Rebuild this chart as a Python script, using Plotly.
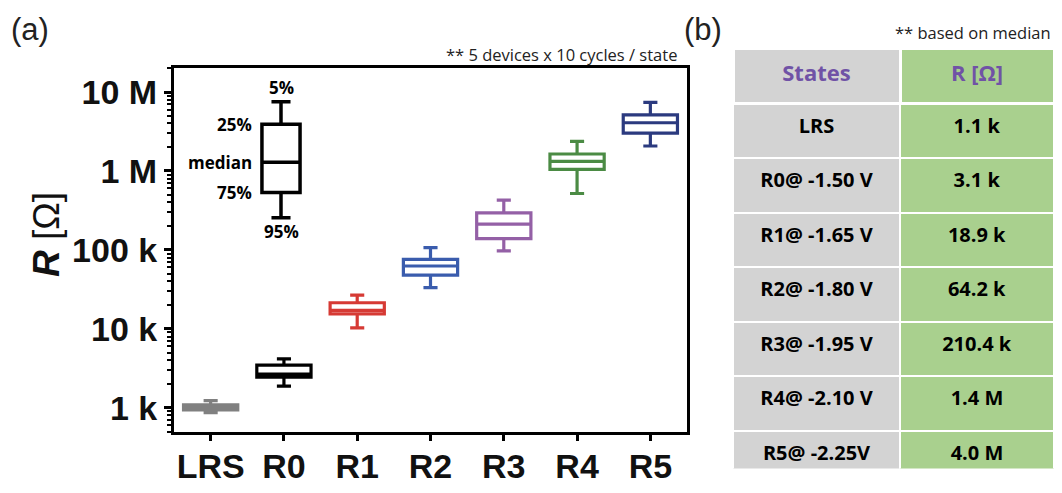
import numpy as np
import plotly.graph_objects as go

# ---------------- data ----------------
categories = ["LRS", "R0", "R1", "R2", "R3", "R4", "R5"]
box_colors = ["#808080", "#000000", "#d63a34", "#3a5cad", "#9460a6", "#4b8b44", "#2b3a7f"]
lower_5 = [870, 1880, 10300, 33300, 97000, 518000, 2070000]
q1_25 = [940, 2440, 15500, 47800, 139000, 1050000, 3010000]
median_50 = [1010, 2680, 17100, 62500, 212000, 1320000, 4080000]
q3_75 = [1090, 3470, 21400, 76000, 294000, 1640000, 5140000]
upper_95 = [1230, 4170, 26800, 106600, 428000, 2370000, 7380000]

# legend key box (illustrative values)
key_pos = 0.96
key_values = dict(lower=256000, q1=532000, median=1290000, q3=3900000, upper=7500000)

ytick_vals = [1e3, 1e4, 1e5, 1e6, 1e7]
ytick_text = ["1 k", "10 k", "100 k", "1 M", "10 M"]

table_states = ["LRS", "R0@ -1.50 V", "R1@ -1.65 V", "R2@ -1.80 V",
                "R3@ -1.95 V", "R4@ -2.10 V", "R5@ -2.25V"]
table_median = ["1.1 k", "3.1 k", "18.9 k", "64.2 k", "210.4 k", "1.4 M", "4.0 M"]

# the page body has an 8px margin: the figure is drawn 8px right/down
OFF = 8
W, H = 1046, 477


def px(x):
    return (x - OFF) / W


def py(y):
    return (H - (y - OFF)) / H


fig = go.Figure()

fig.add_trace(go.Box(
    x=[key_pos], q1=[key_values["q1"]], median=[key_values["median"]],
    q3=[key_values["q3"]], lowerfence=[key_values["lower"]],
    upperfence=[key_values["upper"]], width=0.52, whiskerwidth=0.5,
    line=dict(color="black", width=3.5), fillcolor="white",
    boxpoints=False, showlegend=False, hoverinfo="skip"))

for i, c in enumerate(categories):
    fig.add_trace(go.Box(
        x=[i], q1=[q1_25[i]], median=[median_50[i]], q3=[q3_75[i]],
        lowerfence=[lower_5[i]], upperfence=[upper_95[i]],
        width=0.74, whiskerwidth=0.26, name=c,
        line=dict(color=box_colors[i], width=3.2), fillcolor="white",
        boxpoints=False, showlegend=False))

key_font = dict(family="Open Sans", size=17, color="black", weight="bold")
lg = np.log10
annots = [
    dict(x=key_pos, y=lg(key_values["upper"]), text="5%", yshift=14, showarrow=False,
         xref="x", yref="y", font=key_font),
    dict(x=key_pos, y=lg(key_values["q3"]), text="25%", xshift=-27, xanchor="right",
         showarrow=False, xref="x", yref="y", font=key_font),
    dict(x=key_pos, y=lg(key_values["median"]), text="median", xshift=-27, xanchor="right",
         showarrow=False, xref="x", yref="y", font=key_font),
    dict(x=key_pos, y=lg(key_values["q1"]), text="75%", xshift=-27, xanchor="right",
         showarrow=False, xref="x", yref="y", font=key_font),
    dict(x=key_pos, y=lg(key_values["lower"]), text="95%", yshift=-14, showarrow=False,
         xref="x", yref="y", font=key_font),
    dict(x=px(9), y=py(30), xref="paper", yref="paper", text="(a)", showarrow=False,
         xanchor="left", yanchor="middle",
         font=dict(family="Liberation Sans", size=31, color="#222")),
    dict(x=px(682), y=py(30), xref="paper", yref="paper", text="(b)", showarrow=False,
         xanchor="left", yanchor="middle",
         font=dict(family="Liberation Sans", size=31, color="#222")),
    dict(x=px(679), y=py(56), xref="paper", yref="paper",
         text="** 5 devices x 10 cycles / state", showarrow=False,
         xanchor="right", yanchor="middle",
         font=dict(family="Open Sans", size=16.5, color="#222")),
    dict(x=px(1053), y=py(33), xref="paper", yref="paper",
         text="** based on median", showarrow=False, xanchor="right", yanchor="middle",
         font=dict(family="Open Sans", size=16.5, color="#222")),
    dict(x=px(46), y=py(243), xref="paper", yref="paper", textangle=-90,
         text="<b><i>R</i></b> [Ω]", showarrow=False, xanchor="center", yanchor="middle",
         font=dict(family="Liberation Sans", size=37, color="#111")),
]

fig.add_trace(go.Table(
    domain=dict(x=[px(733), 1.0], y=[0.0, py(50)]),
    columnwidth=[167, 154],
    header=dict(values=["<b>States</b>", "<b>R [Ω]</b>"],
                fill_color=["#d3d3d3", "#a9d08e"],
                font=dict(family="Open Sans", size=22, color="#7052a6"),
                height=55, line=dict(color="white", width=3), align="center"),
    cells=dict(values=[["<b>%s</b>" % s for s in table_states],
                       ["<b>%s</b>" % s for s in table_median]],
               fill_color=[["#d3d3d3"] * 7, ["#a9d08e"] * 7],
               font=dict(family="Open Sans", size=20, color="black"),
               height=54.5, line=dict(color="white", width=2), align="center"),
))

fig.update_layout(
    width=W, height=H, margin=dict(l=0, r=0, t=0, b=0),
    paper_bgcolor="white", plot_bgcolor="white", boxmode="overlay",
    annotations=annots,
    xaxis=dict(domain=[px(174), px(687)], range=[-0.5, 6.5],
               tickvals=list(range(len(categories))), ticktext=categories,
               ticks="outside", ticklen=6, tickwidth=3, tickcolor="black",
               ticklabelstandoff=-4,
               showline=True, linewidth=3, linecolor="black", mirror=True,
               showgrid=False, zeroline=False,
               tickfont=dict(family="Liberation Sans", size=34, color="#111", weight="bold")),
    yaxis=dict(domain=[py(447), py(70)], type="log", range=[2.69, 7.305],
               tickvals=ytick_vals, ticktext=ytick_text,
               ticks="outside", ticklen=7, tickwidth=3, tickcolor="black",
               minor=dict(ticks="outside", ticklen=4, tickwidth=2, tickcolor="black",
                          dtick="D1", showgrid=False),
               showline=True, linewidth=3, linecolor="black", mirror=True,
               showgrid=False, zeroline=False,
               tickfont=dict(family="Liberation Sans", size=34, color="#111", weight="bold")),
)

fig.write_html("out.html")
